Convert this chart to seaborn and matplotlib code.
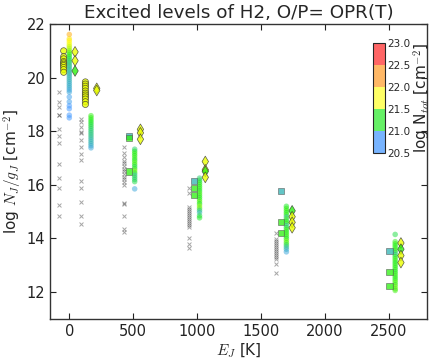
import matplotlib
matplotlib.use('Agg')
import matplotlib.pyplot as plt
import matplotlib.colors as mcolors
import numpy as np
import pandas as pd
import seaborn as sns

# Energy of each rotational level as plotted (K)
e_levels = [0, 170, 512, 1020, 1700, 2552]

# Model column: (log N_J/g_J, log N_tot) for each level
col_y = [
    [21.61, 21.45, 21.38, 21.30, 21.22, 21.15, 21.08, 21.00, 20.93, 20.86, 20.78, 20.70,
     20.62, 20.55, 20.47, 20.40, 20.32, 20.25, 20.17, 20.10, 20.02, 19.94, 19.86, 19.78,
     19.70, 19.62, 19.54, 19.46, 19.28, 19.10, 18.95, 18.84, 18.60, 18.50],
    [18.58, 18.50, 18.42, 18.34, 18.26, 18.18, 18.10, 18.02, 17.94, 17.86, 17.78, 17.70,
     17.62, 17.54, 17.46, 17.38],
    [17.33, 17.25, 17.17, 17.09, 17.00, 16.92, 16.84, 16.76, 16.68, 16.60, 16.52, 16.44,
     16.36, 16.28, 16.20, 16.12, 15.85],
    [16.25, 16.17, 16.09, 16.01, 15.93, 15.85, 15.77, 15.69, 15.61, 15.53, 15.45, 15.37,
     15.29, 15.21, 15.13, 15.05, 14.97, 14.85, 14.77],
    [15.20, 15.12, 15.04, 14.96, 14.88, 14.80, 14.72, 14.64, 14.56, 14.48, 14.40, 14.32,
     14.24, 14.16, 14.08, 14.00, 13.92, 13.84, 13.76, 13.68, 13.60, 13.50],
    [14.15, 13.88, 13.80, 13.72, 13.64, 13.56, 13.48, 13.40, 13.32, 13.24, 13.16, 13.08,
     13.00, 12.92, 12.84, 12.76, 12.68, 12.60, 12.52, 12.44, 12.36, 12.28, 12.20, 12.12, 12.06],
]
col_n = [
    [22.20, 21.90, 21.80, 21.75, 21.70, 21.60, 21.55, 21.40, 21.30, 21.20, 21.10, 21.00,
     20.95, 20.90, 20.85, 20.80, 20.80, 20.75, 20.75, 20.70, 20.70, 20.70, 20.68, 20.65,
     20.65, 20.65, 20.60, 20.60, 20.55, 20.55, 20.50, 20.50, 20.50, 20.50],
    [21.20, 21.20, 21.15, 21.10, 21.05, 21.00, 20.95, 20.90, 20.85, 20.85, 20.80, 20.75,
     20.70, 20.70, 20.65, 20.60],
    [20.90, 21.10, 21.20, 21.15, 21.20, 21.10, 21.30, 21.20, 21.00, 21.20, 21.40, 21.10,
     20.80, 21.00, 20.90, 21.00, 20.60],
    [20.90, 21.00, 21.10, 21.20, 21.15, 21.20, 21.10, 21.25, 21.20, 21.15, 21.20, 21.30,
     21.10, 21.45, 21.30, 20.90, 20.70, 21.00, 21.10],
    [21.10, 21.20, 21.20, 21.15, 21.20, 20.80, 21.20, 21.10, 21.20, 20.75, 21.10, 21.20,
     21.15, 21.20, 21.20, 21.10, 21.35, 21.25, 21.00, 20.80, 20.70, 20.60],
    [21.00, 21.20, 21.20, 21.15, 21.20, 21.20, 21.00, 20.85, 21.15, 21.20, 21.20, 21.10,
     21.20, 21.15, 21.20, 21.10, 21.20, 21.20, 21.15, 21.20, 21.30, 21.20, 21.35, 21.30, 21.25],
]

# Fitted models: circles (J=0,1) and squares (J>=2)
circ_y = [[21.00, 20.78, 20.70, 20.60, 20.55, 20.50, 20.45, 20.38, 20.30, 20.20],
          [19.84, 19.76, 19.68, 19.60, 19.50, 19.42, 19.35, 19.28, 19.20, 19.10, 19.00]]
circ_n = [[21.7] * 10, [21.7] * 11]
sq_y = [[17.82, 17.75, 16.50], [16.13, 15.88, 15.62], [15.76, 14.62, 14.20], [13.54, 12.75, 12.23]]
sq_n = [[20.7, 21.2, 21.2], [20.7, 21.2, 21.2], [20.7, 21.2, 21.2], [20.7, 21.2, 21.2]]

# Diamonds
dia_y = [[20.96, 20.63, 20.25], [19.60, 19.52], [18.07, 17.94, 17.70],
         [16.87, 16.56, 16.50, 16.28], [15.03, 14.81, 14.60, 14.40], [13.83, 13.60, 13.36, 13.10]]
dia_n = [[21.7, 21.7, 21.2], [21.7, 21.7], [21.7, 21.7, 21.7],
         [21.7, 21.7, 21.2, 21.7], [21.2, 21.7, 21.7, 21.7], [21.7, 21.2, 21.7, 21.7]]

# Observations (crosses)
obs_y = [
    [19.46, 19.09, 18.90, 18.62, 18.60, 18.09, 17.82, 17.57, 16.78, 16.26, 15.87, 15.25, 14.82],
    [18.47, 18.35, 18.16, 17.97, 17.93, 17.66, 17.41, 17.16, 16.91, 16.14, 15.88, 15.37, 14.82, 14.54],
    [17.43, 17.20, 17.05, 16.90, 16.80, 16.70, 16.60, 16.50, 16.40, 16.30, 16.20, 16.10, 16.00,
     15.32, 15.28, 14.84, 14.35, 14.23],
    [15.90, 15.70, 15.18, 15.10, 15.02, 14.95, 14.88, 14.80, 14.72, 14.65, 14.58, 14.50, 14.41,
     14.03, 13.79, 13.66],
    [14.22, 13.97, 13.90, 13.82, 13.75, 13.68, 13.60, 13.52, 13.45, 13.38, 13.30, 13.22, 13.06, 12.70],
    [],
]

cbar_bounds = [20.5, 21.0, 21.5, 22.0, 22.5, 23.0]
cbar_colors = ['#78b4ff', '#66f066', '#ffff66', '#ffb866', '#ff6666']


def frame(ys, ns, x, j):
    return pd.DataFrame({'E': [x] * len(ys), 'y': ys, 'n': ns, 'J': j})


df_col = pd.concat([frame(col_y[j], col_n[j], e_levels[j], j) for j in range(6)])
df_circ = pd.concat([frame(circ_y[j], circ_n[j], e_levels[j] - 44, j) for j in range(2)])
df_sq = pd.concat([frame(sq_y[j], sq_n[j], e_levels[j + 2] - 44, j + 2) for j in range(4)])
df_dia = pd.concat([frame(dia_y[j], dia_n[j], e_levels[j] + 45, j) for j in range(6)])
df_obs = pd.concat([frame(obs_y[j], [0] * len(obs_y[j]), e_levels[j] - 80, j) for j in range(6)])

sns.set_style('ticks')
plt.rcParams['font.family'] = ['DejaVu Sans']
plt.rcParams['xtick.direction'] = 'in'
plt.rcParams['ytick.direction'] = 'in'
plt.rcParams['xtick.top'] = True
plt.rcParams['ytick.right'] = True
plt.rcParams['mathtext.fontset'] = 'cm'

pt_cmap = mcolors.LinearSegmentedColormap.from_list(
    'ntot', ['#3c96ff', '#11ee11', '#ffff00', '#ff8800', '#ff0000'])
norm = (20.5, 23.0)

fig = plt.figure(figsize=(4.36, 3.64), dpi=100)
ax = fig.add_axes([0.115, 0.124, 0.864, 0.81])

sns.scatterplot(data=df_obs, x='E', y='y', marker='x', color='0.3', alpha=0.5,
                s=8, linewidth=0.7, ax=ax, legend=False)
sns.scatterplot(data=df_col, x='E', y='y', hue='n', palette=pt_cmap, hue_norm=norm,
                marker='o', s=16, linewidth=0, alpha=0.5, ax=ax, legend=False)
sns.scatterplot(data=df_circ, x='E', y='y', hue='n', palette=pt_cmap, hue_norm=norm,
                marker='o', s=20, edgecolor='#333333', linewidth=0.5, alpha=0.8, ax=ax, legend=False)
sns.scatterplot(data=df_sq, x='E', y='y', hue='n', palette=pt_cmap, hue_norm=norm,
                marker='s', s=20, edgecolor='#555555', linewidth=0.5, alpha=0.75, ax=ax, legend=False)
sns.scatterplot(data=df_dia, x='E', y='y', hue='n', palette=pt_cmap, hue_norm=norm,
                marker='d', s=30, edgecolor='#333333', linewidth=0.5, alpha=0.8, ax=ax, legend=False)

ax.set_xlim(-150, 2800)
ax.set_ylim(11, 22)
ax.set_xticks([0, 500, 1000, 1500, 2000, 2500])
ax.set_yticks([12, 14, 16, 18, 20, 22])
ax.tick_params(labelsize=10.5, length=4, colors='#222222')
ax.set_xlabel('$E_J$ [K]', fontsize=11, labelpad=2)
ax.set_ylabel('log $N_J/g_J$ [cm$^{-2}$]', fontsize=11, labelpad=2)
ax.set_title('Excited levels of H2, O/P= OPR(T)', fontsize=13.2, pad=4)
for sp in ax.spines.values():
    sp.set_linewidth(1.0)
    sp.set_color('#333333')

cax = ax.inset_axes([0.856, 0.563, 0.032, 0.373])
sm = plt.cm.ScalarMappable(norm=mcolors.BoundaryNorm(cbar_bounds, 5),
                           cmap=mcolors.ListedColormap(cbar_colors))
cb = fig.colorbar(sm, cax=cax, ticks=cbar_bounds)
cb.ax.set_yticklabels(['%.1f' % b for b in cbar_bounds])
cb.ax.tick_params(labelsize=7.5, length=0, pad=2)
cb.outline.set_linewidth(0.8)
cb.set_label('log N$_{tot}$ [cm$^{-2}$]', fontsize=11, labelpad=1)

fig.savefig('out.png', dpi=100)
